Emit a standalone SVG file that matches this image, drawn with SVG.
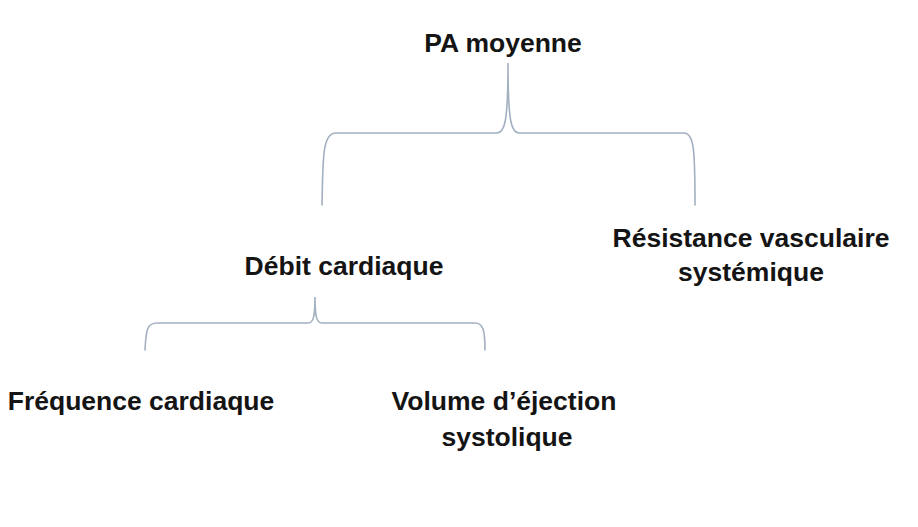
<svg xmlns="http://www.w3.org/2000/svg" width="918" height="527" viewBox="0 0 918 527">
<style>
.t{font-family:"Liberation Sans",Arial,sans-serif;font-weight:bold;font-size:26.5px;fill:#141414;text-anchor:middle}
.b{fill:none;stroke:#a3b0c0;stroke-width:1.6;stroke-linecap:round}
</style>
<rect width="918" height="527" fill="#ffffff"/>
<g id="connectors">
<path class="b" d="M322,205 C323,160 322,133 336,133 L497,133 C505,133 508,120 508,63 C508,120 511,133 519,133 L684,133 C694,133 695,150 695,205"/>
<path class="b" d="M145,350 C146,330 147,323 157,323 L308,323 C313,323 315,318 315,297 C315,318 317,323 322,323 L475,323 C483,323 485,330 485,350"/>
</g>
<g id="pa"><text class="t" x="503" y="52">PA moyenne</text></g>
<g id="debit"><text class="t" x="344" y="275">Débit cardiaque</text></g>
<g id="rvs"><text class="t" x="751" y="247">Résistance vasculaire</text><text class="t" x="751" y="281">systémique</text></g>
<g id="fc"><text class="t" x="141" y="410">Fréquence cardiaque</text></g>
<g id="ves"><text class="t" x="504" y="410">Volume d’éjection</text><text class="t" x="507" y="446">systolique</text></g>
</svg>
